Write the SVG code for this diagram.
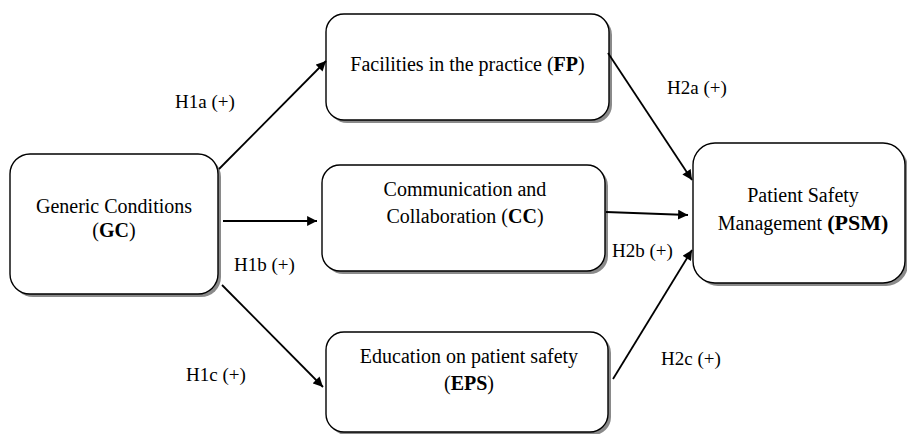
<svg xmlns="http://www.w3.org/2000/svg" width="907" height="434" viewBox="0 0 907 434">
<defs>
<style>
.box{fill:#fff;stroke:#000;stroke-width:1.4}
.sh{fill:#8a8a8a}
text{font-family:'Liberation Serif','DejaVu Serif',serif;fill:#000}
.t{font-size:20px}
.c{text-anchor:middle}
.l{font-size:19px}
.b{font-weight:bold}
.e{stroke:#000;stroke-width:1.8;fill:none;marker-end:url(#ah)}
</style>
<marker id="ah" viewBox="0 0 10 10" refX="10" refY="5" markerWidth="6" markerHeight="5.5" markerUnits="strokeWidth" orient="auto">
<path d="M0,0 L10,5 L0,10 z" fill="#000"/>
</marker>
</defs>
<rect width="907" height="434" fill="#fff"/>
<g id="GC">
<rect class="sh" x="13" y="157" width="208" height="140" rx="20"/>
<rect class="box" x="10" y="154" width="208" height="140" rx="20"/>
<text class="t c" x="114" y="213" font-family="Liberation Serif, serif">Generic Conditions</text>
<text class="t c" x="114" y="237" font-family="Liberation Serif, serif">(<tspan class="b">GC</tspan>)</text>
</g>
<g id="FP">
<rect class="sh" x="329" y="17" width="283" height="106" rx="18"/>
<rect class="box" x="326" y="14" width="283" height="106" rx="18"/>
<text class="t c" x="467.5" y="71" font-family="Liberation Serif, serif">Facilities in the practice (<tspan class="b">FP</tspan>)</text>
</g>
<g id="CC">
<rect class="sh" x="325" y="168" width="283" height="106" rx="18"/>
<rect class="box" x="322" y="165" width="283" height="106" rx="18"/>
<text class="t c" x="465" y="196" font-family="Liberation Serif, serif">Communication and</text>
<text class="t c" x="465" y="223" font-family="Liberation Serif, serif">Collaboration (<tspan class="b">CC</tspan>)</text>
</g>
<g id="EPS">
<rect class="sh" x="329" y="335" width="282" height="100" rx="18"/>
<rect class="box" x="326" y="332" width="282" height="100" rx="18"/>
<text class="t c" x="469" y="363" font-family="Liberation Serif, serif">Education on patient safety</text>
<text class="t c" x="469" y="390" font-family="Liberation Serif, serif">(<tspan class="b">EPS</tspan>)</text>
</g>
<g id="PSM">
<rect class="sh" x="696" y="146" width="212" height="140" rx="22"/>
<rect class="box" x="693" y="143" width="212" height="140" rx="22"/>
<text class="t c" x="803" y="202" font-family="Liberation Serif, serif">Patient Safety</text>
<text class="t c" x="803" y="230" font-family="Liberation Serif, serif">Management <tspan class="b" font-size="22">(PSM)</tspan></text>
</g>
<g id="connectors">
<line class="e" x1="219" y1="169" x2="326" y2="61"/>
<line class="e" x1="223" y1="221" x2="317" y2="221"/>
<line class="e" x1="222" y1="285" x2="323" y2="387"/>
<line class="e" x1="608" y1="53" x2="692" y2="180"/>
<line class="e" x1="606" y1="212" x2="688" y2="215"/>
<line class="e" x1="613" y1="379" x2="692" y2="250"/>
</g>
<g id="labels" font-family="Liberation Serif, serif">
<text class="l" x="175" y="108">H1a (+)</text>
<text class="l" x="234" y="271">H1b (+)</text>
<text class="l" x="186" y="381">H1c (+)</text>
<text class="l" x="667" y="94">H2a (+)</text>
<text class="l" x="612" y="257">H2b (+)</text>
<text class="l" x="661" y="365">H2c (+)</text>
</g>
</svg>
